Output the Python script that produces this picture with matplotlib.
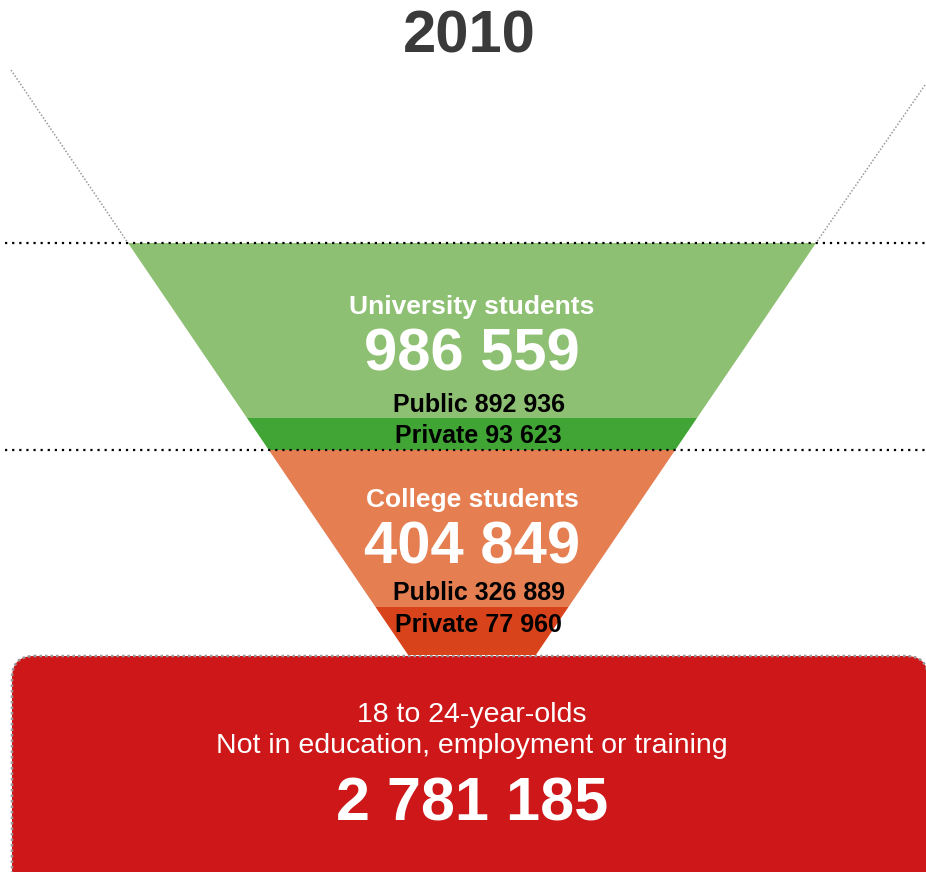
import matplotlib
matplotlib.use("Agg")
import matplotlib.pyplot as plt
from matplotlib.patches import Polygon, FancyBboxPatch

# ---- data ----
year = "2010"
groups = ["University students", "College students"]
totals = [986559, 404849]
public = [892936, 326889]
private = [93623, 77960]
neet_label = ["18 to 24-year-olds", "Not in education, employment or training"]
neet_total = 2781185

def fmt(n):
    return f"{n:,}".replace(",", " ")

# ---- styling ----
plt.rcParams['font.family'] = ['Liberation Sans', 'DejaVu Sans']
W, H = 926, 872
fig = plt.figure(figsize=(W / 100, H / 100), dpi=100)
ax = fig.add_axes([0, 0, 1, 1])
ax.set_xlim(0, W)
ax.set_ylim(H, 0)
ax.axis("off")

cx = 472.0
slope = 0.68  # dx per dy
y_apex_ref = 243.0
half_ref = 344.0

def half(y):
    return half_ref - slope * (y - y_apex_ref)

light = ["#8DC072", "#E57F52"]
dark = ["#41A535", "#D9431C"]
# band boundaries (top, split, bottom) per group
bands = [(243, 418, 450), (450, 607, 655)]

for i, (t, s, b) in enumerate(bands):
    for (y0, y1, c) in [(t, s, light[i]), (s, b, dark[i])]:
        poly = Polygon([(cx - half(y0), y0), (cx + half(y0), y0),
                        (cx + half(y1), y1), (cx - half(y1), y1)],
                       closed=True, facecolor=c, edgecolor="none", zorder=2)
        ax.add_patch(poly)

# funnel guide lines above
ax.plot([11, cx - half(243)], [70, 243], color="#999999", lw=1.1,
        linestyle=(0, (1, 1.2)), zorder=3)
ax.plot([925, cx + half(243)], [85, 243], color="#999999", lw=1.1,
        linestyle=(0, (1, 1.2)), zorder=3)

# dotted horizontal lines
for y in [243, 450]:
    ax.plot([5, W], [y, y], color="black", lw=1.6, linestyle=(0, (1, 2.2)), zorder=4)

# bottom box
box = FancyBboxPatch((12, 656), 916, 300, boxstyle="round,pad=0,rounding_size=22",
                     facecolor="#CD1719", edgecolor="#999999", lw=1.8,
                     linestyle=(0, (1, 1.2)), zorder=1)
ax.add_patch(box)

# title
ax.text(cx - 3, 37, year, ha="center", va="center", fontsize=43, fontweight="bold",
        color="#3a3a3a")

# group texts
text_y = [(307, 352, 405, 436), (500, 545, 593, 625)]
for i in range(2):
    y1, y2, y3, y4 = text_y[i]
    ax.text(cx, y1, groups[i], ha="center", va="center", fontsize=19,
            fontweight="bold", color="white", zorder=5)
    ax.text(cx, y2 + 3, fmt(totals[i]), ha="center", va="center", fontsize=43,
            fontweight="bold", color="white", zorder=5)
    ax.text(cx + 7, y3, f"Public {fmt(public[i])}", ha="center", va="center",
            fontsize=18, fontweight="bold", color="black", zorder=5)
    ax.text(cx + 6, y4, f"Private {fmt(private[i])}", ha="center", va="center",
            fontsize=18, fontweight="bold", color="black", zorder=5)

ax.text(cx, 715, neet_label[0], ha="center", va="center", fontsize=20.5,
        color="white", zorder=5)
ax.text(cx, 746, neet_label[1], ha="center", va="center", fontsize=20.5,
        color="white", zorder=5)
ax.text(cx, 805, fmt(neet_total), ha="center", va="center", fontsize=44,
        fontweight="bold", color="white", zorder=5)

fig.savefig("out.png", dpi=100)
